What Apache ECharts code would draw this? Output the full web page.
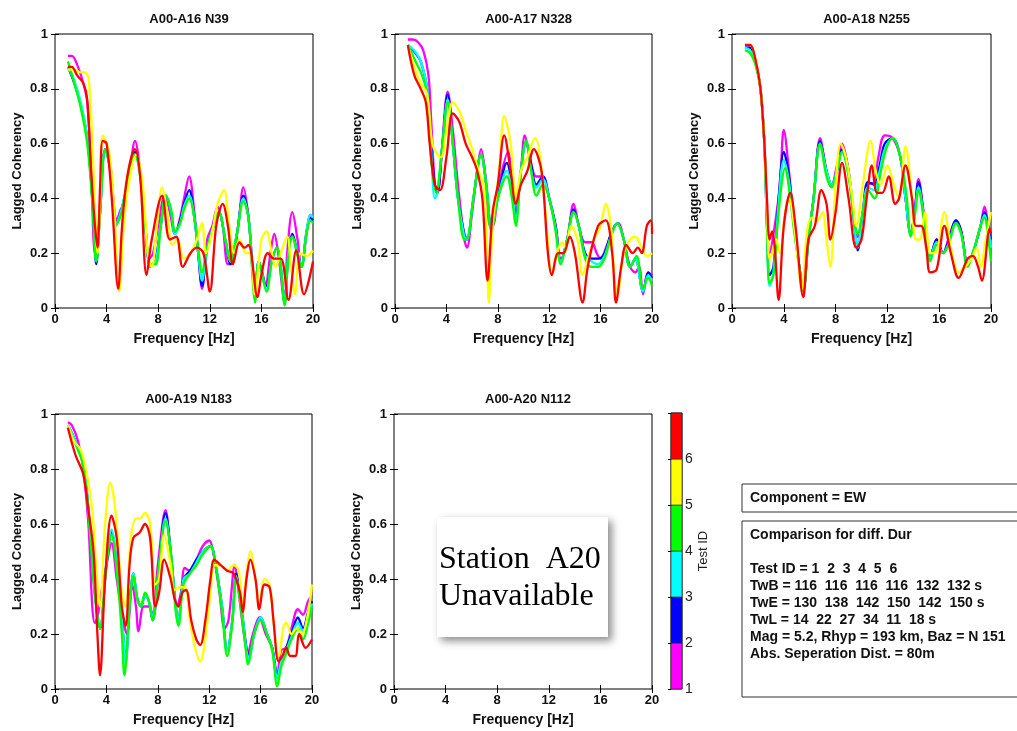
<!DOCTYPE html>
<html>
<head>
<meta charset="utf-8">
<script src="https://cdn.jsdelivr.net/npm/echarts@6/dist/echarts.min.js"></script>
<style>
html,body{margin:0;padding:0;background:#fff;}
#chart{width:1017px;height:731px;}
</style>
</head>
<body>
<div id="chart"></div>
<script>
// ---------- labels ----------
const titles = ['A00-A16 N39', 'A00-A17 N328', 'A00-A18 N255', 'A00-A19 N183', 'A00-A20 N112'];
const testIds = [1, 2, 3, 4, 5, 6];
const testColors = ['#ff00ff', '#0000ff', '#00ffff', '#00ff00', '#ffff00', '#ff0000'];
const xLabel = 'Frequency [Hz]';
const yLabel = 'Lagged Coherency';
const infoTitle = 'Component = EW';
const infoLines = [
  'Comparison for diff. Dur',
  '',
  'Test ID = 1  2  3  4  5  6',
  'TwB = 116  116  116  116  132  132 s',
  'TwE = 130  138  142  150  142  150 s',
  'TwL = 14  22  27  34  11  18 s',
  'Mag = 5.2, Rhyp = 193 km, Baz = N 151',
  'Abs. Seperation Dist. = 80m'
];
const missingText = ['Station  A20', 'Unavailable'];

// ---------- data: [frequency Hz, lagged coherency] ----------
// A00-A16
const a16_t1 = [[1,0.92],[1.3,0.92],[1.7,0.89],[2.2,0.82],[2.5,0.75],[2.8,0.5],[3.1,0.2],[3.3,0.25],[3.9,0.58],[4.3,0.5],[4.8,0.32],[5.1,0.36],[5.4,0.38],[5.8,0.5],[6.2,0.61],[6.6,0.5],[7.0,0.3],[7.3,0.18],[7.6,0.2],[8.0,0.3],[8.5,0.41],[8.9,0.35],[9.3,0.27],[9.7,0.33],[10.0,0.4],[10.4,0.48],[10.8,0.35],[11.1,0.2],[11.4,0.07],[11.8,0.25],[12.2,0.3],[12.6,0.37],[13.0,0.3],[13.4,0.16],[13.7,0.16],[14.2,0.3],[14.6,0.44],[15.0,0.33],[15.3,0.15],[15.5,0.05],[15.8,0.17],[16.3,0.08],[16.7,0.2],[17.0,0.27],[17.3,0.2],[17.8,0.02],[18.0,0.2],[18.4,0.35],[18.8,0.25],[19.1,0.15],[19.5,0.27],[19.8,0.34],[20,0.33]];
const a16_t2 = [[1,0.88],[1.5,0.82],[2,0.74],[2.5,0.62],[2.9,0.4],[3.2,0.16],[3.5,0.35],[3.9,0.58],[4.3,0.52],[4.7,0.3],[5.1,0.35],[5.6,0.45],[6.2,0.57],[6.6,0.5],[7.0,0.3],[7.4,0.15],[7.8,0.18],[8.2,0.3],[8.6,0.41],[9.0,0.35],[9.3,0.27],[9.7,0.32],[10.0,0.38],[10.4,0.43],[10.8,0.33],[11.1,0.2],[11.4,0.08],[11.8,0.22],[12.3,0.3],[12.7,0.35],[13.2,0.25],[13.6,0.16],[14.1,0.27],[14.6,0.41],[15.0,0.33],[15.3,0.15],[15.5,0.05],[15.8,0.17],[16.4,0.08],[16.8,0.17],[17.2,0.22],[17.5,0.15],[17.8,0.02],[18.1,0.2],[18.4,0.27],[18.8,0.2],[19.1,0.15],[19.5,0.28],[19.8,0.33],[20,0.32]];
const a16_t3 = [[1,0.88],[1.5,0.83],[2,0.75],[2.5,0.62],[2.9,0.4],[3.2,0.17],[3.5,0.36],[3.9,0.58],[4.3,0.52],[4.7,0.3],[5.1,0.35],[5.6,0.45],[6.2,0.56],[6.6,0.5],[7.0,0.3],[7.4,0.15],[7.8,0.17],[8.2,0.3],[8.6,0.41],[9.0,0.35],[9.3,0.27],[9.7,0.31],[10.0,0.37],[10.4,0.41],[10.8,0.33],[11.1,0.2],[11.4,0.1],[11.8,0.22],[12.3,0.3],[12.7,0.35],[13.2,0.25],[13.6,0.17],[14.1,0.27],[14.6,0.4],[15.0,0.33],[15.3,0.15],[15.5,0.05],[15.8,0.17],[16.4,0.07],[16.8,0.17],[17.2,0.22],[17.5,0.15],[17.8,0.02],[18.1,0.2],[18.4,0.26],[18.8,0.2],[19.1,0.15],[19.5,0.28],[19.8,0.34],[20,0.33]];
const a16_t4 = [[1,0.9],[1.5,0.82],[2,0.73],[2.5,0.6],[2.9,0.38],[3.2,0.17],[3.5,0.35],[3.9,0.58],[4.3,0.5],[4.7,0.3],[5.1,0.34],[5.6,0.45],[6.2,0.56],[6.6,0.48],[7.0,0.3],[7.4,0.16],[7.8,0.16],[8.2,0.3],[8.6,0.41],[9.0,0.36],[9.3,0.28],[9.7,0.31],[10.0,0.36],[10.4,0.4],[10.8,0.33],[11.1,0.22],[11.4,0.13],[11.8,0.22],[12.3,0.3],[12.7,0.35],[13.2,0.25],[13.6,0.17],[14.1,0.27],[14.6,0.39],[15.0,0.33],[15.3,0.12],[15.5,0.02],[15.8,0.17],[16.4,0.06],[16.8,0.17],[17.2,0.22],[17.5,0.14],[17.8,0.01],[18.1,0.2],[18.4,0.26],[18.8,0.19],[19.1,0.15],[19.5,0.27],[19.8,0.32],[20,0.31]];
const a16_t5 = [[1,0.87],[1.5,0.87],[2.0,0.86],[2.3,0.86],[2.6,0.84],[2.9,0.6],[3.2,0.25],[3.3,0.2],[3.5,0.4],[3.7,0.63],[4.2,0.57],[4.6,0.35],[5.0,0.06],[5.3,0.28],[5.7,0.45],[6.3,0.56],[6.8,0.45],[7.2,0.2],[7.5,0.15],[7.9,0.3],[8.3,0.44],[8.7,0.35],[9.1,0.23],[9.5,0.25],[10,0.18],[10.5,0.2],[11,0.25],[11.4,0.31],[11.7,0.2],[12.2,0.28],[12.6,0.38],[13.1,0.43],[13.5,0.3],[13.9,0.2],[14.3,0.25],[14.8,0.2],[15.1,0.2],[15.5,0.05],[16.0,0.25],[16.4,0.28],[16.8,0.2],[17.1,0.15],[17.5,0.2],[18.0,0.26],[18.3,0.15],[18.6,0.05],[19.0,0.2],[19.5,0.19],[20,0.21]];
const a16_t6 = [[1,0.88],[1.3,0.88],[1.7,0.85],[2.2,0.82],[2.5,0.76],[2.8,0.5],[3.1,0.3],[3.3,0.22],[3.5,0.45],[3.7,0.61],[4.0,0.6],[4.4,0.4],[4.9,0.07],[5.2,0.3],[5.6,0.48],[6.2,0.58],[6.6,0.48],[7.1,0.12],[7.5,0.25],[8.3,0.41],[8.9,0.25],[9.4,0.26],[9.9,0.15],[10.5,0.2],[11.0,0.22],[11.5,0.2],[12.0,0.06],[12.5,0.3],[13.0,0.38],[13.4,0.3],[13.8,0.16],[14.3,0.24],[14.7,0.22],[15.0,0.23],[15.7,0.04],[16.0,0.12],[16.5,0.2],[17.0,0.18],[17.5,0.18],[18.1,0.03],[18.7,0.21],[19.3,0.05],[20,0.17]];

// A00-A17
const a17_t1 = [[1,0.98],[1.4,0.98],[1.8,0.97],[2.2,0.94],[2.6,0.85],[2.8,0.7],[3.1,0.45],[3.3,0.42],[3.6,0.55],[4.1,0.79],[4.5,0.65],[4.9,0.45],[5.4,0.25],[5.6,0.22],[6.0,0.35],[6.4,0.5],[6.7,0.58],[7.0,0.5],[7.4,0.3],[7.6,0.3],[8.1,0.45],[8.8,0.57],[9.1,0.45],[9.4,0.35],[9.8,0.5],[10.1,0.63],[10.5,0.55],[11.0,0.48],[11.5,0.48],[12.0,0.4],[12.5,0.3],[12.9,0.18],[13.4,0.25],[13.9,0.38],[14.3,0.3],[14.8,0.24],[15.3,0.24],[15.7,0.2],[16.0,0.18],[16.5,0.23],[17.1,0.3],[17.4,0.31],[17.8,0.25],[18.3,0.15],[18.7,0.13],[19.0,0.15],[19.3,0.05],[19.7,0.13],[20,0.12]];
const a17_t2 = [[1,0.96],[1.6,0.93],[2.0,0.9],[2.5,0.8],[2.8,0.6],[3.1,0.45],[3.3,0.42],[3.7,0.6],[4.1,0.78],[4.5,0.6],[4.9,0.4],[5.4,0.27],[5.6,0.25],[6.1,0.4],[6.7,0.56],[7.1,0.45],[7.5,0.3],[8.0,0.4],[8.7,0.53],[9.1,0.45],[9.4,0.33],[9.8,0.5],[10.2,0.61],[10.6,0.52],[11.0,0.45],[11.5,0.48],[12.0,0.4],[12.5,0.3],[12.9,0.17],[13.4,0.25],[13.9,0.36],[14.3,0.3],[14.8,0.2],[15.3,0.18],[15.8,0.18],[16.3,0.2],[16.8,0.27],[17.3,0.31],[17.8,0.25],[18.3,0.15],[18.7,0.18],[19.3,0.06],[19.7,0.13],[20,0.11]];
const a17_t3 = [[1,0.96],[1.5,0.94],[2.0,0.9],[2.5,0.8],[2.8,0.58],[3.1,0.4],[3.3,0.42],[3.7,0.6],[4.1,0.76],[4.5,0.6],[4.9,0.4],[5.4,0.26],[5.6,0.25],[6.1,0.4],[6.7,0.56],[7.1,0.45],[7.5,0.29],[8.0,0.4],[8.7,0.5],[9.1,0.43],[9.4,0.32],[9.8,0.5],[10.2,0.61],[10.6,0.5],[11.0,0.44],[11.5,0.47],[12.0,0.4],[12.5,0.29],[12.9,0.17],[13.4,0.25],[13.9,0.35],[14.3,0.3],[14.8,0.19],[15.3,0.17],[15.8,0.16],[16.3,0.19],[16.8,0.26],[17.3,0.31],[17.8,0.25],[18.3,0.15],[18.7,0.18],[19.3,0.06],[19.7,0.12],[20,0.1]];
const a17_t4 = [[1,0.96],[1.6,0.9],[2.1,0.85],[2.5,0.78],[2.8,0.55],[3.2,0.42],[3.7,0.6],[4.1,0.75],[4.5,0.6],[4.9,0.4],[5.4,0.25],[5.7,0.26],[6.1,0.4],[6.7,0.56],[7.1,0.45],[7.5,0.28],[8.0,0.4],[8.7,0.48],[9.1,0.4],[9.4,0.3],[9.8,0.5],[10.2,0.61],[10.6,0.5],[11.0,0.41],[11.5,0.45],[12.0,0.4],[12.5,0.28],[12.9,0.16],[13.4,0.25],[13.9,0.35],[14.3,0.3],[14.8,0.18],[15.3,0.15],[15.8,0.15],[16.3,0.18],[16.8,0.26],[17.3,0.31],[17.8,0.25],[18.3,0.15],[18.8,0.19],[19.3,0.07],[19.7,0.11],[20,0.08]];
const a17_t5 = [[1,0.96],[1.5,0.88],[2.0,0.82],[2.5,0.78],[2.9,0.6],[3.3,0.56],[3.6,0.55],[4.0,0.65],[4.5,0.75],[5.0,0.72],[5.5,0.65],[6.0,0.58],[6.5,0.5],[6.9,0.45],[7.15,0.25],[7.3,0.02],[7.6,0.3],[8.1,0.5],[8.5,0.7],[9.0,0.6],[9.4,0.4],[9.8,0.5],[10.3,0.55],[10.9,0.62],[11.3,0.55],[11.8,0.3],[12.2,0.12],[12.6,0.2],[13.0,0.24],[13.3,0.22],[13.7,0.3],[14.2,0.25],[14.6,0.12],[15.0,0.18],[15.5,0.25],[16.0,0.3],[16.4,0.38],[16.8,0.3],[17.1,0.1],[17.3,0.05],[17.8,0.2],[18.3,0.25],[18.7,0.26],[19.2,0.22],[19.6,0.19],[20,0.2]];
const a17_t6 = [[1,0.96],[1.5,0.85],[2.0,0.8],[2.4,0.75],[2.7,0.6],[3.1,0.45],[3.5,0.43],[4.0,0.55],[4.5,0.71],[5.0,0.68],[5.5,0.6],[6.0,0.55],[6.4,0.5],[6.8,0.4],[7.2,0.1],[7.6,0.35],[8.0,0.45],[8.5,0.63],[9.0,0.5],[9.4,0.38],[9.8,0.45],[10.3,0.5],[10.8,0.58],[11.4,0.5],[11.9,0.2],[12.2,0.12],[12.7,0.2],[13.1,0.2],[13.6,0.26],[14.0,0.2],[14.6,0.02],[15.0,0.15],[15.8,0.3],[16.4,0.32],[16.9,0.2],[17.2,0.02],[17.6,0.15],[18.0,0.23],[18.5,0.2],[18.9,0.22],[19.2,0.2],[19.6,0.3],[19.9,0.32],[20,0.27]];

// A00-A18
const a18_t1 = [[1,0.95],[1.4,0.95],[1.8,0.9],[2.2,0.8],[2.5,0.6],[2.7,0.35],[2.9,0.2],[3.3,0.3],[3.7,0.45],[4.0,0.65],[4.4,0.5],[4.8,0.3],[5.2,0.15],[5.5,0.06],[5.9,0.25],[6.3,0.4],[6.8,0.62],[7.3,0.5],[7.7,0.45],[8.1,0.52],[8.5,0.6],[9.0,0.5],[9.5,0.3],[9.7,0.26],[10.1,0.35],[10.5,0.45],[11.0,0.46],[11.3,0.55],[11.8,0.63],[12.4,0.62],[13.0,0.55],[13.4,0.4],[13.8,0.27],[14.1,0.35],[14.4,0.47],[14.8,0.35],[15.3,0.18],[15.8,0.25],[16.3,0.2],[16.7,0.25],[17.3,0.32],[17.7,0.28],[18.2,0.16],[18.6,0.2],[19.2,0.3],[19.5,0.37],[19.8,0.3],[20,0.25]];
const a18_t2 = [[1,0.95],[1.4,0.95],[1.8,0.9],[2.2,0.8],[2.5,0.6],[2.7,0.3],[2.9,0.12],[3.2,0.15],[3.6,0.4],[4.0,0.57],[4.4,0.48],[4.8,0.3],[5.2,0.15],[5.5,0.07],[5.9,0.25],[6.3,0.4],[6.8,0.61],[7.3,0.5],[7.7,0.45],[8.1,0.5],[8.5,0.58],[9.0,0.5],[9.5,0.28],[9.7,0.21],[10.1,0.35],[10.5,0.46],[11.0,0.45],[11.4,0.52],[11.8,0.6],[12.4,0.62],[13.0,0.55],[13.4,0.4],[13.8,0.27],[14.1,0.35],[14.4,0.46],[14.8,0.34],[15.3,0.18],[15.8,0.25],[16.3,0.2],[16.7,0.24],[17.3,0.32],[17.7,0.28],[18.2,0.16],[18.6,0.2],[19.2,0.3],[19.5,0.35],[19.8,0.3],[20,0.25]];
const a18_t3 = [[1,0.95],[1.4,0.94],[1.8,0.9],[2.2,0.8],[2.5,0.6],[2.7,0.3],[2.9,0.08],[3.2,0.13],[3.6,0.38],[4.0,0.54],[4.4,0.46],[4.8,0.3],[5.2,0.15],[5.5,0.07],[5.9,0.25],[6.3,0.4],[6.8,0.6],[7.3,0.5],[7.7,0.45],[8.1,0.5],[8.5,0.57],[9.0,0.5],[9.5,0.28],[9.7,0.22],[10.1,0.35],[10.5,0.44],[11.0,0.43],[11.4,0.5],[11.8,0.58],[12.4,0.62],[13.0,0.55],[13.4,0.4],[13.8,0.27],[14.1,0.34],[14.4,0.44],[14.8,0.34],[15.3,0.18],[15.8,0.24],[16.3,0.2],[16.7,0.23],[17.3,0.31],[17.7,0.27],[18.2,0.16],[18.6,0.2],[19.2,0.3],[19.5,0.34],[19.8,0.28],[20,0.22]];
const a18_t4 = [[1,0.94],[1.4,0.93],[1.8,0.89],[2.2,0.8],[2.5,0.6],[2.7,0.3],[2.9,0.09],[3.2,0.12],[3.6,0.35],[4.1,0.51],[4.5,0.4],[4.8,0.28],[5.2,0.15],[5.5,0.06],[5.9,0.25],[6.3,0.4],[6.8,0.6],[7.3,0.48],[7.7,0.44],[8.1,0.5],[8.5,0.57],[9.0,0.48],[9.5,0.3],[9.7,0.27],[10.1,0.35],[10.5,0.43],[11.0,0.4],[11.5,0.5],[11.9,0.58],[12.4,0.62],[13.0,0.55],[13.5,0.4],[13.8,0.26],[14.1,0.33],[14.4,0.43],[14.8,0.33],[15.3,0.17],[15.8,0.23],[16.3,0.2],[16.7,0.23],[17.3,0.31],[17.7,0.27],[18.2,0.15],[18.6,0.2],[19.2,0.3],[19.5,0.33],[19.8,0.25],[20,0.17]];
const a18_t5 = [[1,0.96],[1.4,0.96],[1.8,0.91],[2.2,0.8],[2.5,0.6],[2.7,0.35],[2.9,0.18],[3.1,0.2],[3.4,0.25],[3.7,0.2],[4.1,0.35],[4.4,0.4],[4.8,0.3],[5.4,0.07],[5.8,0.28],[6.2,0.33],[6.6,0.32],[7.0,0.35],[7.3,0.25],[7.6,0.15],[8.0,0.45],[8.4,0.6],[8.8,0.55],[9.3,0.4],[9.6,0.3],[10.1,0.45],[10.7,0.61],[11.1,0.5],[11.5,0.45],[12.0,0.52],[12.5,0.45],[12.9,0.4],[13.4,0.59],[13.8,0.45],[14.2,0.25],[14.5,0.25],[14.9,0.35],[15.3,0.2],[15.7,0.2],[16.4,0.35],[16.9,0.22],[17.5,0.13],[18.0,0.15],[18.5,0.18],[18.9,0.22],[19.2,0.15],[19.6,0.25],[20,0.35]];
const a18_t6 = [[1,0.96],[1.4,0.96],[1.8,0.91],[2.2,0.8],[2.5,0.6],[2.7,0.4],[2.9,0.25],[3.1,0.28],[3.3,0.22],[3.6,0.03],[4.0,0.3],[4.5,0.42],[4.9,0.3],[5.5,0.04],[5.9,0.25],[6.4,0.3],[6.9,0.43],[7.3,0.38],[7.6,0.25],[8.0,0.35],[8.5,0.53],[9.0,0.4],[9.6,0.22],[10.0,0.25],[10.4,0.4],[10.8,0.52],[11.2,0.42],[11.6,0.42],[12.1,0.48],[12.6,0.38],[12.9,0.4],[13.4,0.52],[13.9,0.4],[14.2,0.3],[14.6,0.3],[15.0,0.22],[15.3,0.13],[15.8,0.14],[16.4,0.3],[16.9,0.2],[17.5,0.11],[18.2,0.18],[18.6,0.19],[19.0,0.15],[19.3,0.1],[19.9,0.29],[20,0.27]];

// A00-A19
const a19_t1 = [[1,0.97],[1.3,0.96],[1.8,0.9],[2.2,0.8],[2.6,0.6],[2.9,0.3],[3.1,0.24],[3.3,0.26],[3.6,0.35],[4.0,0.45],[4.4,0.53],[4.8,0.4],[5.3,0.25],[5.6,0.2],[6.0,0.38],[6.3,0.3],[6.5,0.21],[6.9,0.3],[7.3,0.3],[7.6,0.27],[8.0,0.45],[8.6,0.65],[9.0,0.5],[9.5,0.3],[9.8,0.35],[10.1,0.44],[10.5,0.43],[11.0,0.47],[11.5,0.52],[12.0,0.54],[12.3,0.5],[12.8,0.35],[13.2,0.22],[13.5,0.25],[14.0,0.45],[14.3,0.35],[14.7,0.2],[15.0,0.13],[15.4,0.2],[15.9,0.26],[16.4,0.2],[16.9,0.15],[17.3,0.05],[17.6,0.14],[18.0,0.15],[18.4,0.22],[18.9,0.29],[19.3,0.27],[19.7,0.32],[20,0.34]];
const a19_t2 = [[1,0.96],[1.6,0.9],[2.2,0.82],[2.7,0.6],[3.1,0.35],[3.5,0.22],[4.0,0.45],[4.4,0.57],[4.9,0.4],[5.3,0.2],[5.5,0.1],[5.8,0.3],[6.1,0.42],[6.4,0.33],[6.7,0.3],[7.0,0.34],[7.3,0.32],[7.6,0.25],[8.1,0.45],[8.6,0.64],[9.0,0.5],[9.4,0.3],[9.6,0.25],[10.0,0.4],[10.5,0.43],[11.0,0.47],[11.5,0.5],[12.1,0.52],[12.5,0.45],[13.0,0.3],[13.4,0.14],[13.8,0.25],[14.1,0.42],[14.5,0.3],[14.9,0.15],[15.1,0.12],[15.5,0.2],[16.0,0.26],[16.5,0.2],[16.9,0.15],[17.3,0.05],[17.6,0.1],[18.0,0.15],[18.4,0.2],[18.9,0.26],[19.3,0.22],[19.7,0.28],[20,0.32]];
const a19_t3 = [[1,0.96],[1.6,0.9],[2.2,0.82],[2.7,0.6],[3.1,0.35],[3.5,0.22],[4.0,0.46],[4.4,0.58],[4.9,0.4],[5.3,0.2],[5.5,0.09],[5.8,0.3],[6.1,0.42],[6.4,0.33],[6.7,0.3],[7.0,0.34],[7.3,0.32],[7.6,0.26],[8.1,0.45],[8.6,0.62],[9.0,0.5],[9.4,0.3],[9.6,0.25],[10.0,0.4],[10.5,0.42],[11.0,0.46],[11.5,0.5],[12.1,0.52],[12.5,0.45],[13.0,0.3],[13.4,0.14],[13.8,0.25],[14.1,0.41],[14.5,0.3],[14.9,0.14],[15.1,0.11],[15.5,0.2],[16.0,0.26],[16.5,0.2],[16.9,0.15],[17.3,0.04],[17.6,0.1],[18.0,0.14],[18.4,0.19],[18.9,0.24],[19.3,0.21],[19.7,0.27],[20,0.31]];
const a19_t4 = [[1,0.95],[1.6,0.89],[2.2,0.81],[2.7,0.58],[3.1,0.34],[3.5,0.22],[4.0,0.45],[4.4,0.56],[4.9,0.38],[5.2,0.2],[5.4,0.05],[5.8,0.3],[6.1,0.41],[6.4,0.33],[6.7,0.3],[7.0,0.35],[7.3,0.32],[7.6,0.25],[8.1,0.45],[8.6,0.61],[9.0,0.5],[9.4,0.28],[9.6,0.23],[10.0,0.38],[10.5,0.42],[11.0,0.45],[11.5,0.49],[12.1,0.52],[12.5,0.45],[13.0,0.28],[13.4,0.12],[13.8,0.24],[14.1,0.4],[14.5,0.28],[14.9,0.12],[15.0,0.09],[15.5,0.2],[16.0,0.25],[16.5,0.2],[16.9,0.14],[17.3,0.01],[17.6,0.08],[18.0,0.13],[18.4,0.18],[18.9,0.22],[19.3,0.18],[19.7,0.24],[20,0.3]];
const a19_t5 = [[1,0.96],[1.5,0.9],[2,0.87],[2.4,0.8],[2.9,0.65],[3.2,0.45],[3.5,0.3],[3.9,0.6],[4.3,0.75],[4.7,0.65],[5.2,0.35],[5.5,0.3],[5.9,0.55],[6.3,0.62],[6.6,0.62],[7.0,0.64],[7.4,0.6],[7.8,0.38],[8.1,0.4],[8.5,0.56],[9.0,0.45],[9.3,0.36],[9.7,0.37],[10.1,0.37],[10.5,0.25],[10.9,0.15],[11.3,0.1],[11.6,0.15],[12.1,0.35],[12.4,0.45],[12.9,0.45],[13.4,0.43],[13.9,0.45],[14.3,0.43],[14.6,0.3],[14.9,0.42],[15.2,0.5],[15.6,0.4],[15.9,0.3],[16.3,0.4],[16.7,0.38],[17.1,0.2],[17.4,0.12],[17.8,0.23],[18.0,0.24],[18.4,0.2],[18.8,0.22],[19.2,0.2],[19.6,0.25],[20,0.38]];
const a19_t6 = [[1,0.95],[1.6,0.85],[2.2,0.78],[2.6,0.65],[3.0,0.5],[3.3,0.2],[3.5,0.05],[3.9,0.4],[4.4,0.63],[4.8,0.55],[5.2,0.3],[5.5,0.23],[5.8,0.45],[6.1,0.55],[6.6,0.57],[7.0,0.6],[7.4,0.55],[7.8,0.3],[8.1,0.35],[8.5,0.47],[9.0,0.4],[9.3,0.33],[9.6,0.3],[9.9,0.35],[10.2,0.36],[10.6,0.25],[11.0,0.18],[11.3,0.16],[11.7,0.25],[12.1,0.4],[12.4,0.47],[12.9,0.45],[13.4,0.43],[13.9,0.42],[14.4,0.35],[14.6,0.28],[14.9,0.4],[15.2,0.47],[15.6,0.4],[15.9,0.29],[16.3,0.38],[16.7,0.37],[17.0,0.25],[17.4,0.1],[17.7,0.12],[18.0,0.15],[18.3,0.12],[18.7,0.12],[19.0,0.2],[19.5,0.15],[20,0.18]];

const a16 = [a16_t1, a16_t2, a16_t3, a16_t4, a16_t5, a16_t6];
const a17 = [a17_t1, a17_t2, a17_t3, a17_t4, a17_t5, a17_t6];
const a18 = [a18_t1, a18_t2, a18_t3, a18_t4, a18_t5, a18_t6];
const a19 = [a19_t1, a19_t2, a19_t3, a19_t4, a19_t5, a19_t6];
const a20 = []; // unavailable
const stationData = [a16, a17, a18, a19, a20];

// ---------- layout ----------
const FONT = '"Liberation Sans", Arial, sans-serif';
const grids = [
  {left: 55, top: 34, width: 258, height: 274},
  {left: 395, top: 34, width: 257, height: 274},
  {left: 732, top: 34, width: 259, height: 274},
  {left: 55, top: 414, width: 257, height: 275},
  {left: 394, top: 414, width: 258, height: 275}
];
const cbGrid = {left: 671, top: 413, width: 11, height: 276};

const tickStyle = {show: true, inside: true, length: 4, lineStyle: {color: '#000', width: 1}};
const labelStyle = {fontFamily: FONT, fontWeight: 'bold', fontSize: 13, color: '#111'};

const option = {
  animation: false,
  backgroundColor: '#fff',
  title: [],
  grid: [],
  xAxis: [],
  yAxis: [],
  series: [],
  graphic: []
};

grids.forEach((g, i) => {
  option.grid.push(Object.assign({show: true, borderColor: '#000', borderWidth: 1, backgroundColor: '#fff', containLabel: false}, g));
  option.title.push({
    text: titles[i], left: g.left + g.width / 2, top: g.top - 26, textAlign: 'center',
    textStyle: {fontFamily: FONT, fontWeight: 'bold', fontSize: 13, color: '#111'}
  });
  option.xAxis.push({
    type: 'value', gridIndex: i, min: 0, max: 20, interval: 4, position: 'bottom',
    axisLine: {show: false}, axisTick: tickStyle, splitLine: {show: false},
    axisLabel: Object.assign({margin: 5}, labelStyle),
    name: xLabel, nameLocation: 'middle', nameGap: 24,
    nameTextStyle: {fontFamily: FONT, fontWeight: 'bold', fontSize: 14, color: '#111'}
  });
  option.xAxis.push({
    type: 'value', gridIndex: i, min: 0, max: 20, interval: 4, position: 'top',
    axisLine: {show: false}, axisTick: tickStyle, splitLine: {show: false}, axisLabel: {show: false}
  });
  option.yAxis.push({
    type: 'value', gridIndex: i, min: 0, max: 1, interval: 0.2, position: 'left',
    axisLine: {show: false}, axisTick: tickStyle, splitLine: {show: false},
    axisLabel: Object.assign({margin: 7}, labelStyle),
    name: yLabel, nameLocation: 'middle', nameGap: 31, nameRotate: 90,
    nameTextStyle: {fontFamily: FONT, fontWeight: 'bold', fontSize: 13, color: '#111'}
  });
  option.yAxis.push({
    type: 'value', gridIndex: i, min: 0, max: 1, interval: 0.2, position: 'right',
    axisLine: {show: false}, axisTick: tickStyle, splitLine: {show: false}, axisLabel: {show: false}
  });
  stationData[i].forEach((curve, k) => {
    option.series.push({
      type: 'line', name: 'Test ' + testIds[k], xAxisIndex: 2 * i, yAxisIndex: 2 * i,
      data: curve, showSymbol: false, smooth: 0.35,
      lineStyle: {color: testColors[k], width: 2.3}, itemStyle: {color: testColors[k]}, z: 2 + k
    });
  });
});

// colorbar (Test ID) on its own axis
const cbIndex = grids.length;
option.grid.push(Object.assign({show: true, borderColor: '#000', borderWidth: 1, containLabel: false}, cbGrid));
option.xAxis.push({type: 'value', gridIndex: cbIndex, min: 0, max: 1, show: false});
option.yAxis.push({
  type: 'value', gridIndex: cbIndex, min: 1, max: 7, interval: 1, position: 'right',
  axisLine: {show: false}, splitLine: {show: false},
  axisTick: {show: true, inside: true, length: 3, lineStyle: {color: '#000'}},
  axisLabel: {fontFamily: FONT, fontSize: 14, color: '#222', margin: 3,
    formatter: v => (v <= 6 ? String(v) : '')},
  name: 'Test ID', nameLocation: 'middle', nameRotate: 90, nameGap: 14,
  nameTextStyle: {fontFamily: FONT, fontSize: 13, color: '#222'}
});
option.series.push({
  type: 'line', xAxisIndex: 2 * grids.length, yAxisIndex: 2 * grids.length, data: [], silent: true,
  markArea: {
    silent: true,
    data: testIds.map((id, k) => [
      {xAxis: 0, yAxis: id, itemStyle: {color: testColors[k], borderColor: '#222', borderWidth: 0.6, opacity: 1}},
      {xAxis: 1, yAxis: id + 1}
    ])
  }
});

// information boxes
option.graphic.push(
  {type: 'rect', shape: {x: 742, y: 484, width: 300, height: 28}, style: {fill: '#fff', stroke: '#333', lineWidth: 1}},
  {type: 'text', style: {x: 750, y: 498, text: infoTitle, font: 'bold 14px ' + FONT, fill: '#111', verticalAlign: 'middle'}},
  {type: 'rect', shape: {x: 742, y: 521, width: 300, height: 176}, style: {fill: '#fff', stroke: '#333', lineWidth: 1}},
  {type: 'text', style: {x: 750, y: 527, text: infoLines.join('\n'), font: 'bold 14px ' + FONT, fill: '#111', lineHeight: 17}},
  // "Station A20 Unavailable" note
  {type: 'rect', shape: {x: 437, y: 517, width: 171, height: 120},
    style: {fill: '#fff', shadowBlur: 8, shadowOffsetX: 4, shadowOffsetY: 4, shadowColor: 'rgba(0,0,0,0.45)'}, z: 50},
  {type: 'text', style: {x: 439, y: 560, text: missingText[0], font: '32px "Liberation Serif", "DejaVu Serif", serif', fill: '#000', verticalAlign: 'middle'}, z: 51},
  {type: 'text', style: {x: 439, y: 597, text: missingText[1], font: '32px "Liberation Serif", "DejaVu Serif", serif', fill: '#000', verticalAlign: 'middle'}, z: 51}
);

const chart = echarts.init(document.getElementById('chart'), null, {renderer: 'canvas'});
chart.setOption(option);
</script>
</body>
</html>
